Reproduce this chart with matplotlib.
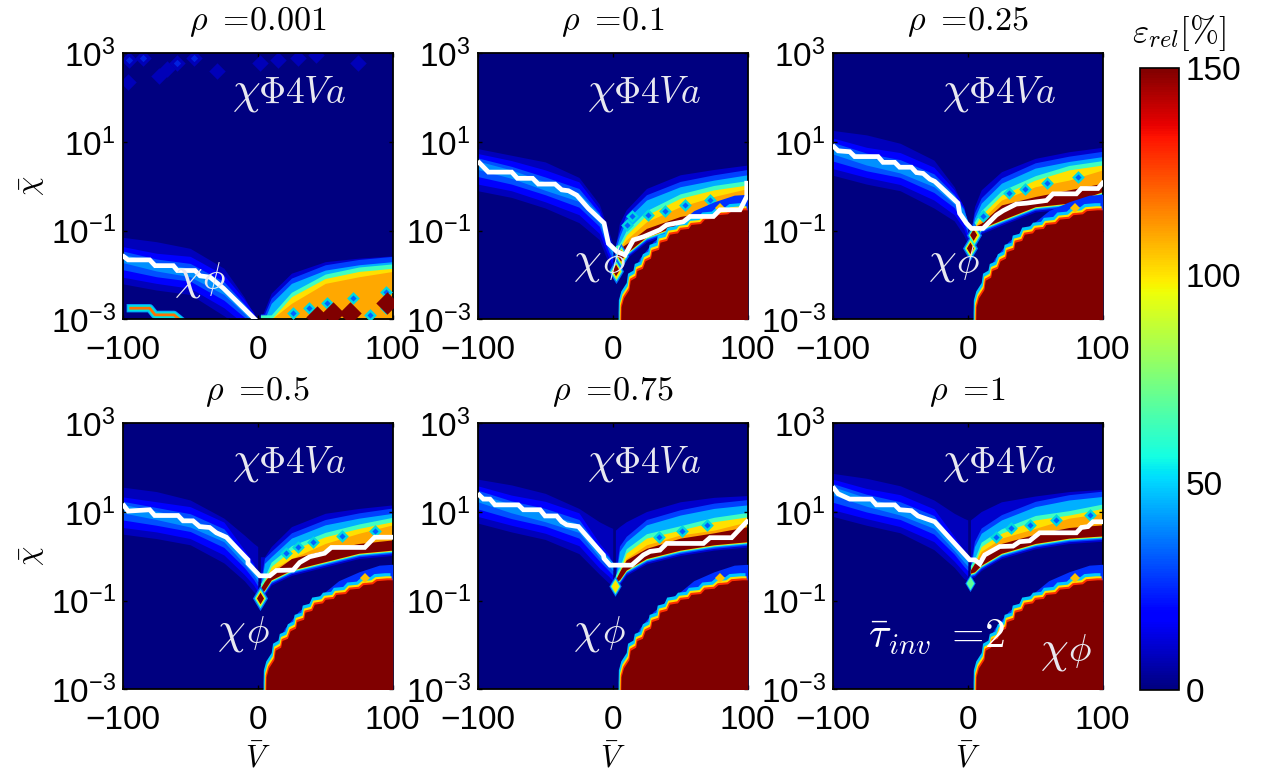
import numpy as np
import matplotlib
matplotlib.use('Agg')
import matplotlib.pyplot as plt
from matplotlib.cm import ScalarMappable
from matplotlib.colors import Normalize

plt.rcParams['font.family'] = ['Liberation Sans', 'DejaVu Sans']
plt.rcParams['mathtext.fontset'] = 'cm'

# panel titles, values, chi values are log10
rho_labels = ['0.001', '0.1', '0.25', '0.5', '0.75', '1']
x_ticks = [-100, 0, 100]
y_ticks = [-3, -1, 1, 3]
bar_ticks = [0, 50, 100, 150]

# white boundary line of each panel
line_v = [
    [-99, -96, -80, -76, -62.5, -59.5, -46.4, -42.7, -35.3, -25.4, -2],
    [-98.8, -92.1, -74.8, -70.6, -59.3, -55.1, -42.7, -37.8, -32.8, -26.7, -18, -6.4, -3.2, 3, 9.1, 15.3, 22.7, 35, 40, 52.3, 57.3, 74.6, 79.5, 94.3, 99.3, 99.3],
    [-99, -96, -87.4, -83.7, -66.4, -62.7, -54, -50.4, -41.7, -38, -33, -28, -24.4, -7.2, -6, -1, 2.7, 11.4, 21.2, 26.2, 36, 43.5, 58.3, 63.2, 80.5, 84.2, 96.5, 99.8],
    [-99, -96, -80, -76.3, -59, -55.3, -47.9, -43, -35.6, -30.6, -23.2, -7.2, -7.2, 1.5, 8.9, 13.8, 26.2, 31.1, 38.5, 49.6, 54.6, 79.3, 86.7, 99],
    [-98.8, -95.8, -90.9, -87.2, -69.9, -66.2, -53.8, -50.1, -41.5, -37.8, -34.1, -25.4, -6.9, -6.4, -2, 14.1, 22.7, 27.7, 35, 40, 67.2, 72.1, 88.1, 99.3],
    [-99, -96, -87.4, -71.4, -67.7, -54, -50.4, -41.7, -36.8, -24.4, 1.5, 5.2, 8.9, 12.6, 23.7, 33.6, 38.5, 45.9, 53.3, 80.5, 84.2, 89.1, 92.8, 99.8],
]
line_chi = [
    [-1.59, -1.66, -1.66, -1.79, -1.79, -1.90, -1.90, -2.02, -2.05, -2.30, -3.0],
    [.53, .32, .32, .18, .18, .05, .05, -.08, -.10, -.20, -.50, -.83, -1.29, -1.47, -1.55, -1.21, -1.14, -.98, -.87, -.80, -.68, -.68, -.53, -.53, -.23, .07],
    [.89, .80, .78, .67, .67, .54, .54, .43, .43, .31, .29, .16, .11, -.38, -.61, -.83, -.95, -.95, -.65, -.55, -.40, -.38, -.32, -.17, -.17, -.05, -.05, .07],
    [1.14, 1.02, 1.05, .92, .92, .80, .80, .67, .65, .53, .43, -.08, -.16, -.44, -.44, -.32, -.31, -.14, -.01, .07, .20, .20, .43, .43],
    [1.38, 1.29, 1.29, 1.16, 1.16, 1.05, 1.05, .91, .91, .78, .71, .67, .03, -.05, -.20, -.20, .03, .11, .14, .29, .29, .42, .42, .78],
    [1.53, 1.41, 1.29, 1.29, 1.16, 1.16, 1.05, 1.03, .91, .78, -.08, -.08, -.17, .03, .22, .23, .33, .35, .53, .53, .65, .67, .78, .78],
]

# left hand blue band
band_v = [-100, -75, -50, -25, -10, -3, 0]
band_ridge = [
    [-1.60, -1.79, -1.92, -2.32, -2.75, -3.0, -3.1],
    [.50, .30, .03, -.22, -.70, -1.25, -1.45],
    [.85, .60, .42, .11, -.28, -.60, -.85],
    [1.10, .95, .78, .45, -.05, -.30, -.45],
    [1.35, 1.10, .90, .66, .10, -.10, -.20],
    [1.50, 1.25, 1.05, .75, .25, 0, -.10],
]
band_outer_top = [
    [-1.15, -1.25, -1.40, -1.85, -2.50, -2.90, -3.0],
    [.85, .70, .55, .20, -.40, -1.0, -1.30],
    [1.26, 1.16, .97, .59, -.01, -.46, -.91],
    [1.56, 1.46, 1.27, .86, .48, .29, .22],
    [1.74, 1.61, 1.42, 1.08, .78, .67, .63],
    [1.87, 1.76, 1.59, 1.27, .97, .86, .82],
]
band_outer_down = [.60, .55, .52, .60, .50, .50, .45]
band_blue_up = [.24, .28, .34, .32, .20, .15, .03]
band_blue_down = [.45, .40, .38, .42, .36, .35, .35]
band_azure_up = [.14, .15, .18, .17, .10, .10, .02]
band_azure_down = [.28, .25, .22, .25, .20, .22, .22]

# right hand plume, each list is the top of one colour
plume_v = [2, 5, 10, 25, 50, 75, 100]
plume_outer = [
    [-3, -2.79, -2.41, -1.96, -1.70, -1.62, -1.57],
    [-1.36, -.83, -.53, -.05, .26, .38, .48],
    [-1.14, -.46, -.08, .33, .63, .78, .88],
    [-.01, -.01, .22, .67, .97, 1.08, 1.16],
    [.59, .67, .78, 1.01, 1.23, 1.33, 1.37],
    [.82, .89, 1.01, 1.23, 1.36, 1.46, 1.51],
]
plume_cyan = [
    [-3, -3, -2.64, -2.19, -1.89, -1.77, -1.70],
    [-1.44, -1.14, -.76, -.31, -.01, .14, .26],
    [-1.14, -.72, -.38, .07, .41, .56, .67],
    [-.72, -.16, -.01, .41, .71, .86, .97],
    [-.53, .11, .33, .71, .93, 1.08, 1.16],
    [-.31, .22, .52, .82, 1.12, 1.27, 1.35],
]
plume_yellow = [
    [-3, -3, -3, -2.49, -2.08, -1.92, -1.85],
    [-1.44, -1.40, -1.10, -.65, -.27, -.08, .03],
    [-1.14, -.91, -.65, -.20, .14, .37, .48],
    [-.72, -.57, -.23, .14, .44, .63, .78],
    [-.53, -.35, .07, .41, .59, .78, .89],
    [-.31, -.16, .22, .52, .82, .93, 1.08],
]
plume_orange = [
    [-3, -3, -3, -2.64, -2.19, -2.04, -1.92],
    [-1.44, -1.40, -1.21, -.80, -.46, -.23, -.05],
    [-1.14, -.91, -.76, -.31, -.01, .14, .37],
    [-.72, -.57, -.31, -.05, .29, .52, .71],
    [-.53, -.35, -.05, .26, .48, .59, .78],
    [-.31, -.16, .11, .41, .63, .86, .97],
]
strip_top = [
    [-3, -3, -3, -3, -3, -3, -3],
    [-1.44, -1.40, -1.30, -.95, -.68, -.55, -.42],
    [-1.14, -.91, -.83, -.42, -.23, -.08, .07],
    [-.72, -.57, -.38, -.05, .14, .29, .37],
    [-.53, -.35, -.08, .18, .41, .53, .67],
    [-.31, -.16, -.01, .29, .50, .65, .71],
]
strip_bottom = [
    [-3, -3, -3, -3, -3, -3, -3],
    [-1.51, -1.51, -1.51, -1.14, -.87, -.76, -.50],
    [-1.14, -1.14, -.95, -.76, -.46, -.38, -.12],
    [-.87, -.76, -.53, -.31, -.12, .07, .14],
    [-.57, -.53, -.31, -.05, .14, .26, .33],
    [-.38, -.35, -.20, .07, .29, .41, .46],
]

# big red area with saw teeth, same edge in panels 2 to 6
red_v = [6, 6.2, 8, 12, 13, 17, 18, 22, 24, 28, 29, 34, 35, 40, 42, 48, 50, 56, 58, 65, 68, 75, 78, 85, 88, 96, 100]
red_chi = [-3, -2.72, -2.52, -2.33, -2.12, -2.05, -1.90, -1.85, -1.68, -1.62, -1.47, -1.42, -1.26, -1.22, -1.08, -1.05, -.97, -.95, -.86, -.84, -.74, -.72, -.64, -.62, -.55, -.53, -.53]
rim_v = [4, 8, 12, 20, 30, 40, 50, 60, 75, 90, 100]
rim_chi = [-3, -2.6, -2.1, -1.62, -1.25, -1.0, -.80, -.55, -.35, -.20, -.18]

# diamonds in the plume (low error spots)
spot_v = [
    [38.3, 51, 70.9, 95, 95, 83, 26.4],
    [10.4, 14, 26.4, 38.8, 53.6, 72],
    [11.4, 30.4, 42.7, 59, 81.7],
    [21.2, 29.9, 41, 62.5, 86.7],
    [34.6, 51, 69.6],
    [21.2, 32.3, 45.9, 65.2, 90.4],
]
spot_chi = [
    [-2.75, -2.64, -2.51, -2.38, -2.75, -2.90, -2.86],
    [-.87, -.68, -.65, -.55, -.42, -.31],
    [-.68, -.16, -.05, .07, .20],
    [.07, .20, .33, .46, .56],
    [.44, .56, .71],
    [.44, .63, .71, .82, .93],
]
# hot spots near V=0, third list is the error in %
hot_v = [[43.7, 56, 68.4, 95.5], [6.2, 2.5], [2, 4.4], [1.5], [1.7], [2]]
hot_chi = [[-2.94, -2.86, -2.86, -2.64], [-1.57, -1.90], [-1.40, -1.10], [-.95], [-.68], [-.61]]
hot_err = [[150, 150, 150, 150], [150, 150], [150, 150], [150], [100], [70]]

# first panel extras
stripe_v = [-94, -80, -76, -62, -58]
stripe_chi = [-2.75, -2.75, -2.90, -2.90, -3.0]
speck_v = [-95, -85, -60, -47, -73, -96, -67, 2, 15, 43, 74, -30, 30]
speck_chi = [2.85, 2.89, 2.77, 2.89, 2.48, 2.36, 2.65, 2.77, 2.85, 2.96, 2.79, 2.60, 2.90]

pos_x = [122.7, 477.7, 832.7]
pos_y = [53.3, 423.3]
ax_w, ax_h = 270, 266
W, H = 1266, 773
blue_bg = '#000080'
jet = plt.get_cmap('jet')
norm = Normalize(0, 150)
narrow_diamond = [(0, 1), (.6, 0), (0, -1), (-.6, 0)]


def chi(a):
    return 10.0 ** np.asarray(a, dtype=float)


def draw_hot(ax, v, c, e):
    for s, val in [(330, 35), (210, 60), (130, 100)]:
        ax.scatter(v, chi(c), s=s * min(e) / 150, marker=narrow_diamond, color=jet(norm(min(val, min(e)))), linewidths=0, zorder=5)
    ax.scatter(v, chi(c), s=70 * min(e) / 150, marker=narrow_diamond, c=e, cmap='jet', vmin=0, vmax=150, linewidths=0, zorder=5)


fig = plt.figure(figsize=(W / 100, H / 100), dpi=100)

for k in range(6):
    col, row = k % 3, k // 3
    ax = fig.add_axes([pos_x[col] / W, 1 - (pos_y[row] + ax_h) / H, ax_w / W, ax_h / H])
    ax.set_facecolor(blue_bg)
    ax.set_yscale('log')

    # left band
    ridge = np.array(band_ridge[k])
    ax.fill_between(band_v, chi(band_outer_top[k]), chi(ridge - band_outer_down), color='#0000bb', lw=0)
    ax.fill_between(band_v, chi(ridge + band_blue_up), chi(ridge - band_blue_down), color='#0000ff', lw=0)
    ax.fill_between(band_v, chi(ridge + band_azure_up), chi(ridge - band_azure_down), color='#0050ff', lw=0)
    ax.fill_between(band_v, chi(ridge + .07), chi(ridge - .12), color='#0090ff', lw=0)

    # plume, outer colour first
    base = np.array(strip_bottom[k])
    if k == 0:
        base = base - .2
    ax.fill_between(plume_v, chi(plume_outer[k]), chi(base - .12), color='#0000cc', lw=0)
    ax.fill_between(plume_v, chi(np.array(plume_cyan[k]) + .12), chi(base - .08), color='#0040ff', lw=0)
    ax.fill_between(plume_v, chi(plume_cyan[k]), chi(base - .05), color='#00b0ff', lw=0)
    ax.fill_between(plume_v, chi(np.array(plume_yellow[k]) + .10), chi(base - .03), color='#40ffc0', lw=0)
    ax.fill_between(plume_v, chi(plume_yellow[k]), chi(base - .015), color='#ffe000', lw=0)
    ax.fill_between(plume_v, chi(plume_orange[k]), chi(base), color='#ffa800', lw=0)
    if k > 0:
        ax.fill_between(plume_v, chi(strip_top[k]), chi(base), color='#800000', lw=0)

    ax.scatter(spot_v[k], chi(spot_chi[k]), s=42, marker='D', color='#00d8e0', linewidths=0, zorder=3)
    ax.scatter(spot_v[k], chi(spot_chi[k]), s=10, marker='D', color='#0060ff', linewidths=0, zorder=3)

    # red area with coloured rim
    if k > 0:
        vv = np.array(red_v, dtype=float)
        rr = np.array(red_chi)
        ax.fill_between(rim_v, chi(rim_chi), 1e-4, color='#0030ff', lw=0, zorder=3.1)
        ax.fill_between(vv - 2, chi(rr + .16), 1e-4, color='#00c8ff', lw=0, zorder=3.2)
        ax.fill_between(vv - 1.2, chi(rr + .09), 1e-4, color='#ffe000', lw=0, zorder=3.3)
        ax.fill_between(vv - .6, chi(rr + .045), 1e-4, color='#ff3000', lw=0, zorder=3.4)
        ax.fill_between(vv, chi(rr), 1e-4, color='#800000', lw=0, zorder=3.5)
        ax.plot([79.5], chi([-.50]), 'D', ms=5, color='#ffc000', mew=0, zorder=3.3)

    if k == 0:
        # dark red blobs at the bottom, stripes lower left, speckle along the top
        ax.scatter(hot_v[0], chi(hot_chi[0]), s=130, marker='D', color='#800000', linewidths=0, zorder=5)
        ax.plot(stripe_v, chi(stripe_chi), color='#00a0ff', lw=6, zorder=2)
        ax.plot(stripe_v, chi(stripe_chi), color='#00e0e0', lw=4.5, zorder=2)
        ax.plot(stripe_v, chi(stripe_chi), color='#ff7000', lw=2, zorder=2)
        ax.scatter(speck_v, chi(speck_chi), s=70, marker='D', color='#0000b8', linewidths=0, zorder=2)
        ax.scatter(speck_v[:4], chi(speck_chi[:4]), s=14, marker='D', color='#0020e0', linewidths=0, zorder=2)
    else:
        draw_hot(ax, hot_v[k], hot_chi[k], hot_err[k])

    ax.plot(line_v[k], chi(line_chi[k]), color='white', lw=3.4, solid_joinstyle='miter', zorder=6)

    # texts
    ax.text(.404, .815, r'$\chi$', transform=ax.transAxes, color='#e8e8f0', fontsize=32, zorder=7)
    ax.text(.50, .815, r'$\Phi 4Va$', transform=ax.transAxes, color='#e8e8f0', fontsize=27, zorder=7)
    phi_x = [.19, .354, .353, .35, .354, .766][k]
    phi_y = [.115, .175, .175, .175, .175, .105][k]
    ax.text(phi_x, phi_y, r'$\chi$', transform=ax.transAxes, color='#e8e8f0', fontsize=32, zorder=7)
    ax.text(phi_x + .105, phi_y, r'$\phi$', transform=ax.transAxes, color='#e8e8f0', fontsize=27, zorder=7)
    if k == 5:
        ax.text(.13, .155, r'$\bar{\tau}_{inv}$ $=\!2$', transform=ax.transAxes, color='white', fontsize=30, zorder=7)

    ax.set_xlim(-100, 100)
    ax.set_ylim(1e-3, 1e3)
    ax.set_xticks(x_ticks)
    ax.set_xticklabels(['\u2212100', '0', '100'])
    ax.set_yticks(chi(y_ticks))
    ax.set_yticklabels([r'$\mathregular{10^{%d}}$' % t if t > 0 else r'$\mathregular{10^{-%d}}$' % -t for t in y_ticks])
    ax.minorticks_off()
    ax.tick_params(direction='in', length=3, width=1, top=True, right=True, labelsize=24)
    ax.tick_params(axis='x', pad=11)
    ax.tick_params(axis='y', pad=5)
    for s in ax.spines.values():
        s.set_linewidth(1.3)
    ax.set_title(r'$\rho\ =\!$' + r'$%s$' % rho_labels[k], fontsize=24.5, pad=17)
    if col == 0:
        ax.set_ylabel(r'$\bar{\chi}$', fontsize=22, labelpad=3)
    if row == 1:
        ax.set_xlabel(r'$\bar{V}$', fontsize=22, labelpad=6)

# colour bar
cax = fig.add_axes([1139.5 / W, 1 - 690 / H, 39.5 / W, 622 / H])
cb = fig.colorbar(ScalarMappable(norm=norm, cmap='jet'), cax=cax)
cb.set_ticks(bar_ticks)
cb.ax.tick_params(labelsize=24, length=0, pad=5)
cb.outline.set_linewidth(1.2)
fig.text(1179 / W, 1 - 33 / H, r'$\varepsilon_{rel}[\%]$', fontsize=25, ha='center', va='center')

fig.savefig('out.png', dpi=100)
